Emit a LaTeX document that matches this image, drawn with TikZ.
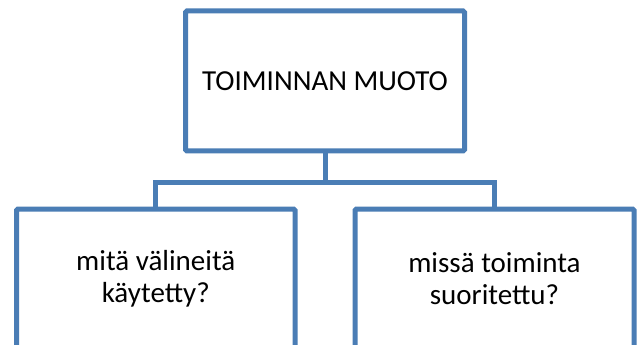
\documentclass[tikz,border=0pt]{standalone}
\usepackage{fontspec}
\setmainfont{Carlito}
\definecolor{boxblue}{HTML}{4A7DB5}
\begin{document}
\begin{tikzpicture}[x=1pt,y=-1pt,
  orgbox/.style={draw=boxblue, line width=5pt, rounded corners=1.5pt, fill=white,
    minimum width=279pt, minimum height=140pt, inner sep=0pt, align=center,
    font=\fontsize{29}{32}\selectfont},
  link/.style={draw=boxblue, line width=5pt}]
\clip (0,0) rectangle (641,345);
\fill[white] (0,0) rectangle (641,345);
\node[orgbox] (top) at (325,81) {TOIMINNAN MUOTO};
\node[orgbox, minimum width=278.5pt] (left) at (155.75,279) {mitä välineitä\\käytetty?};
\node[orgbox] (right) at (494.5,279) {missä toiminta\\suoritettu?};
\draw[link] (top.south) -- ++(0,29) coordinate (hub);
\draw[link] (hub) -| (left.north);
\draw[link] (hub) -| (right.north);
\end{tikzpicture}
\end{document}
